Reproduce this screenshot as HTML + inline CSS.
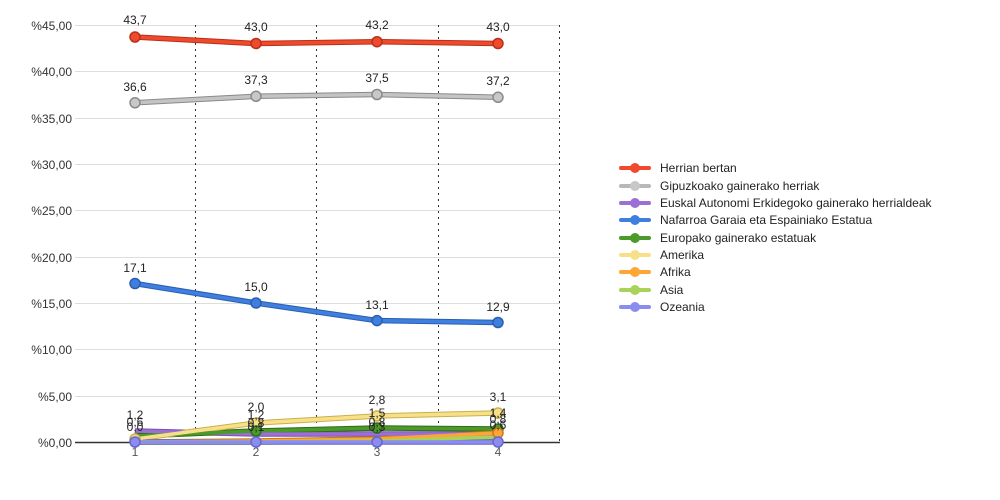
<!DOCTYPE html>
<html><head><meta charset="utf-8"><style>body{margin:0;background:#fff}svg{display:block;font-family:"Liberation Sans",sans-serif}</style></head><body>
<svg width="1000" height="500" viewBox="0 0 1000 500">
<g stroke="#ddd" stroke-width="1">
<line x1="75" x2="560" y1="25.5" y2="25.5"/><line x1="75" x2="560" y1="71.5" y2="71.5"/><line x1="75" x2="560" y1="118.5" y2="118.5"/><line x1="75" x2="560" y1="164.5" y2="164.5"/><line x1="75" x2="560" y1="210.5" y2="210.5"/><line x1="75" x2="560" y1="257.5" y2="257.5"/><line x1="75" x2="560" y1="303.5" y2="303.5"/><line x1="75" x2="560" y1="349.5" y2="349.5"/><line x1="75" x2="560" y1="396.5" y2="396.5"/>
</g>
<g stroke="#333" stroke-width="1" stroke-dasharray="2,4">
<line x1="195.5" x2="195.5" y1="25" y2="442"/><line x1="316.5" x2="316.5" y1="25" y2="442"/><line x1="438.5" x2="438.5" y1="25" y2="442"/><line x1="559.5" x2="559.5" y1="25" y2="442"/>
</g>
<line x1="75" x2="560" y1="442.5" y2="442.5" stroke="#333" stroke-width="1.5"/>
<g font-size="12" fill="#333" text-anchor="end">
<text x="72" y="30">%45,00</text><text x="72" y="76">%40,00</text><text x="72" y="123">%35,00</text><text x="72" y="169">%30,00</text><text x="72" y="215">%25,00</text><text x="72" y="262">%20,00</text><text x="72" y="308">%15,00</text><text x="72" y="354">%10,00</text><text x="72" y="401">%5,00</text><text x="72" y="447">%0,00</text>
</g>
<g font-size="12" fill="#555" text-anchor="middle"><text x="135" y="456">1</text><text x="256" y="456">2</text><text x="377" y="456">3</text><text x="498" y="456">4</text></g>
<g fill="none" stroke-width="5.5" stroke-linejoin="round">
<polyline stroke="#7a50b0" points="135,431 256,434 377,434 498,434"/>
<polyline stroke="#2f6d1b" points="135,436 256,431 377,428 498,429"/>
<polyline stroke="#c77a1a" points="135,442 256,441 377,439 498,433"/>
<polyline stroke="#7fa83a" points="135,442 256,442 377,441 498,437"/>
<polyline stroke="#c9b04a" points="135,439 256,423 377,416 498,413"/>
<polyline stroke="#6667c8" points="135,442 256,442 377,442 498,442"/>
<polyline stroke="#2a5fb0" points="135,283.5 256,303 377,320.6 498,322.5"/>
<polyline stroke="#8a8a8a" points="135,102.8 256,96.3 377,94.5 498,97.3"/>
<polyline stroke="#b83018" points="135,37 256,43.5 377,41.7 498,43.5"/>
</g>
<g fill="none" stroke-width="3.5" stroke-linejoin="round">
<polyline stroke="#9b6fd6" points="135,431 256,434 377,434 498,434"/>
<polyline stroke="#4c9a2a" points="135,436 256,431 377,428 498,429"/>
<polyline stroke="#ffa534" points="135,442 256,441 377,439 498,433"/>
<polyline stroke="#a9d25a" points="135,442 256,442 377,441 498,437"/>
<polyline stroke="#f8e08b" points="135,439 256,423 377,416 498,413"/>
<polyline stroke="#8b8cf0" points="135,442 256,442 377,442 498,442"/>
<polyline stroke="#3f7fe0" points="135,283.5 256,303 377,320.6 498,322.5"/>
<polyline stroke="#c4c4c4" points="135,102.8 256,96.3 377,94.5 498,97.3"/>
<polyline stroke="#f04a2e" points="135,37 256,43.5 377,41.7 498,43.5"/>
</g>
<g stroke-width="1.5">
<g fill="#f8e08b" stroke="#c9b04a"><circle cx="135" cy="439" r="5"/><circle cx="256" cy="423" r="5"/><circle cx="377" cy="416" r="5"/><circle cx="498" cy="413" r="5"/></g>
<g fill="#4c9a2a" stroke="#2f6d1b"><circle cx="256" cy="431" r="5"/><circle cx="377" cy="428" r="5"/><circle cx="498" cy="429" r="5"/></g>
<g fill="#ffa534" stroke="#c77a1a"><circle cx="498" cy="433" r="5"/></g>
<g fill="#8b8cf0" stroke="#6667c8"><circle cx="135" cy="442" r="5"/><circle cx="256" cy="442" r="5"/><circle cx="377" cy="442" r="5"/><circle cx="498" cy="442" r="5"/></g>
<g fill="#3f7fe0" stroke="#2a5fb0"><circle cx="135" cy="283.5" r="5"/><circle cx="256" cy="303" r="5"/><circle cx="377" cy="320.6" r="5"/><circle cx="498" cy="322.5" r="5"/></g>
<g fill="#c8c8c8" stroke="#8a8a8a"><circle cx="135" cy="102.8" r="5"/><circle cx="256" cy="96.3" r="5"/><circle cx="377" cy="94.5" r="5"/><circle cx="498" cy="97.3" r="5"/></g>
<g fill="#f04a2e" stroke="#b83018"><circle cx="135" cy="37" r="5"/><circle cx="256" cy="43.5" r="5"/><circle cx="377" cy="41.7" r="5"/><circle cx="498" cy="43.5" r="5"/></g>
</g>
<g font-size="12" fill="#222" text-anchor="middle">
<text x="135" y="24">43,7</text><text x="256" y="31">43,0</text><text x="377" y="29">43,2</text><text x="498" y="31">43,0</text>
<text x="135" y="91">36,6</text><text x="256" y="84">37,3</text><text x="377" y="82">37,5</text><text x="498" y="85">37,2</text>
<text x="135" y="272">17,1</text><text x="256" y="291">15,0</text><text x="377" y="309">13,1</text><text x="498" y="311">12,9</text>
<text x="256" y="411">2,0</text><text x="377" y="404">2,8</text><text x="498" y="401">3,1</text>
<text x="135" y="419">1,2</text><text x="135" y="426">0,6</text><text x="135" y="431">0,0</text>
<text x="256" y="419">1,2</text><text x="256" y="427">0,8</text><text x="256" y="431">0,1</text>
<text x="377" y="417">1,5</text><text x="377" y="426">0,8</text><text x="377" y="431">0,3</text>
<text x="498" y="417">1,4</text><text x="498" y="423">0,8</text><text x="498" y="429">0,6</text>
</g>
<g font-size="12" fill="#222">
<g stroke-width="4" stroke-linecap="round">
<line x1="621" x2="649" y1="168" y2="168" stroke="#f04a2e"/><line x1="621" x2="649" y1="186" y2="186" stroke="#b8b8b8"/><line x1="621" x2="649" y1="203" y2="203" stroke="#9b6fd6"/><line x1="621" x2="649" y1="220" y2="220" stroke="#3f7fe0"/><line x1="621" x2="649" y1="238" y2="238" stroke="#4c9a2a"/><line x1="621" x2="649" y1="255" y2="255" stroke="#f8e08b"/><line x1="621" x2="649" y1="272" y2="272" stroke="#ffa534"/><line x1="621" x2="649" y1="290" y2="290" stroke="#a9d25a"/><line x1="621" x2="649" y1="307" y2="307" stroke="#8b8cf0"/>
</g>
<circle cx="635" cy="168" r="5" fill="#f04a2e"/><circle cx="635" cy="186" r="5" fill="#c8c8c8"/><circle cx="635" cy="203" r="5" fill="#9b6fd6"/><circle cx="635" cy="220" r="5" fill="#3f7fe0"/><circle cx="635" cy="238" r="5" fill="#4c9a2a"/><circle cx="635" cy="255" r="5" fill="#f8e08b"/><circle cx="635" cy="272" r="5" fill="#ffa534"/><circle cx="635" cy="290" r="5" fill="#a9d25a"/><circle cx="635" cy="307" r="5" fill="#8b8cf0"/>
<text x="660" y="172">Herrian bertan</text><text x="660" y="190">Gipuzkoako gainerako herriak</text><text x="660" y="207">Euskal Autonomi Erkidegoko gainerako herrialdeak</text><text x="660" y="224">Nafarroa Garaia eta Espainiako Estatua</text><text x="660" y="242">Europako gainerako estatuak</text><text x="660" y="259">Amerika</text><text x="660" y="276">Afrika</text><text x="660" y="294">Asia</text><text x="660" y="311">Ozeania</text>
</g>
</svg>
</body></html>
